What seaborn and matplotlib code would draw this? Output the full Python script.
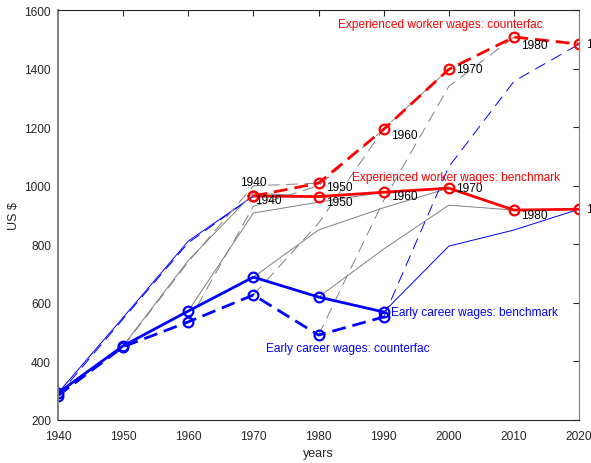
import matplotlib
matplotlib.use("Agg")
import matplotlib.pyplot as plt
import seaborn as sns

# Observation years
years_early = [1940, 1950, 1960, 1970, 1980, 1990]
years_exp = [1970, 1980, 1990, 2000, 2010, 2020]

# Early career wages (US $)
early_bench = [292, 453, 572, 688, 620, 569]
early_cf = [283, 450, 535, 627, 490, 552]

# Experienced worker wages (US $)
exp_bench = [965, 963, 978, 992, 917, 920]
exp_cf = [965, 1009, 1193, 1398, 1508, 1484]

# Cohort wage paths over 30 years (entry year -> 4 decadal points)
cohorts = [1940, 1950, 1960, 1970, 1980, 1990]
path_bench = [
    [292, 550, 811, 965],
    [453, 745, 975, 963],
    [572, 907, 944, 978],
    [688, 849, 925, 992],
    [620, 784, 934, 917],
    [569, 794, 849, 920],
]
path_cf = [
    [283, 545, 805, 965],
    [450, 740, 1000, 1009],
    [535, 930, 1000, 1193],
    [627, 872, 1195, 1398],
    [490, 950, 1340, 1508],
    [552, 1065, 1357, 1484],
]
cohort_labels = ["1940", "1950", "1960", "1970", "1980", "1990"]

sns.set_style("white")
plt.rcParams["font.family"] = ["Liberation Sans", "DejaVu Sans"]

fig = plt.figure(figsize=(5.91, 4.64), dpi=100)
ax = fig.add_axes([0.098, 0.0927, 0.882, 0.8833])

BLUE = "#0000ff"
RED = "#ff0000"
GRAY = "#808080"

# thin cohort paths
for i, c in enumerate(cohorts):
    yrs = [c, c + 10, c + 20, c + 30]
    edge = i in (0, len(cohorts) - 1)
    col = BLUE if edge else GRAY
    sns.lineplot(x=yrs, y=path_bench[i], ax=ax, color=col, linewidth=0.7,
                 linestyle="-", sort=False)
    sns.lineplot(x=yrs, y=path_cf[i], ax=ax, color=col, linewidth=0.7,
                 linestyle=(0, (12, 7)), sort=False)

marker_kw = dict(marker="o", markersize=7, markerfacecolor="none",
                 markeredgewidth=1.6)

sns.lineplot(x=years_early, y=early_cf, ax=ax, color=BLUE, linewidth=2.0,
             linestyle=(0, (5, 2.5)), markeredgecolor=BLUE, **marker_kw)
sns.lineplot(x=years_early, y=early_bench, ax=ax, color=BLUE, linewidth=2.0,
             linestyle="-", markeredgecolor=BLUE, **marker_kw)
sns.lineplot(x=years_exp, y=exp_cf, ax=ax, color=RED, linewidth=2.0,
             linestyle=(0, (5, 2.5)), markeredgecolor=RED, **marker_kw)
sns.lineplot(x=years_exp, y=exp_bench, ax=ax, color=RED, linewidth=2.0,
             linestyle="-", markeredgecolor=RED, **marker_kw)

# cohort labels next to experienced-worker points
fs = 8.6
bench_dy = [-4, -5, -4, 0, -5, 0]
cf_dy = [None, -4, -6, 0, -8, 0]
for i, lab in enumerate(cohort_labels):
    bx = 2 if i == 0 else 7
    ax.annotate(lab, (years_exp[i], exp_bench[i]), xytext=(bx, bench_dy[i]),
                textcoords="offset pixels", ha="left", va="center",
                fontsize=fs, color="black", annotation_clip=False)
    if i == 0:
        ax.annotate(lab, (years_exp[i], exp_cf[i]), xytext=(0, 14),
                    textcoords="offset pixels", ha="center", va="center",
                    fontsize=fs, color="black", annotation_clip=False)
    else:
        ax.annotate(lab, (years_exp[i], exp_cf[i]), xytext=(7, cf_dy[i]),
                    textcoords="offset pixels", ha="left", va="center",
                    fontsize=fs, color="black", annotation_clip=False)

# series labels
ax.text(1998.7, 1552, "Experienced worker wages: counterfac", color=RED,
        fontsize=fs, ha="center", va="center")
ax.text(2001.1, 1030, "Experienced worker wages: benchmark", color=RED,
        fontsize=fs, ha="center", va="center")
ax.text(1991.1, 569, "Early career wages: benchmark", color=BLUE,
        fontsize=fs, ha="left", va="center")
ax.text(1984.5, 446, "Early career wages: counterfac", color=BLUE,
        fontsize=fs, ha="center", va="center")

ax.set_xlim(1940, 2020)
ax.set_ylim(200, 1600)
ax.set_xticks(list(range(1940, 2021, 10)))
ax.set_yticks(list(range(200, 1601, 200)))
ax.tick_params(direction="in", length=4, width=0.8, colors="#262626",
               labelsize=fs, top=True, right=True, labeltop=False,
               labelright=False)
ax.tick_params(axis="x", pad=7)
ax.tick_params(axis="y", pad=5)
for s in ax.spines.values():
    s.set_visible(True)
    s.set_color("#262626")
    s.set_linewidth(0.8)
ax.spines["left"].set_color("#7f7f7f")
ax.spines["left"].set_linewidth(1.4)
ax.spines["right"].set_color("#7f7f7f")
ax.set_xlabel("years", fontsize=fs + 0.4, color="#262626", labelpad=4)
ax.set_ylabel("US $", fontsize=fs + 0.4, color="#262626", labelpad=12)
ax.yaxis.set_label_coords(-0.072, 0.5)

fig.savefig("out.png", dpi=100)
